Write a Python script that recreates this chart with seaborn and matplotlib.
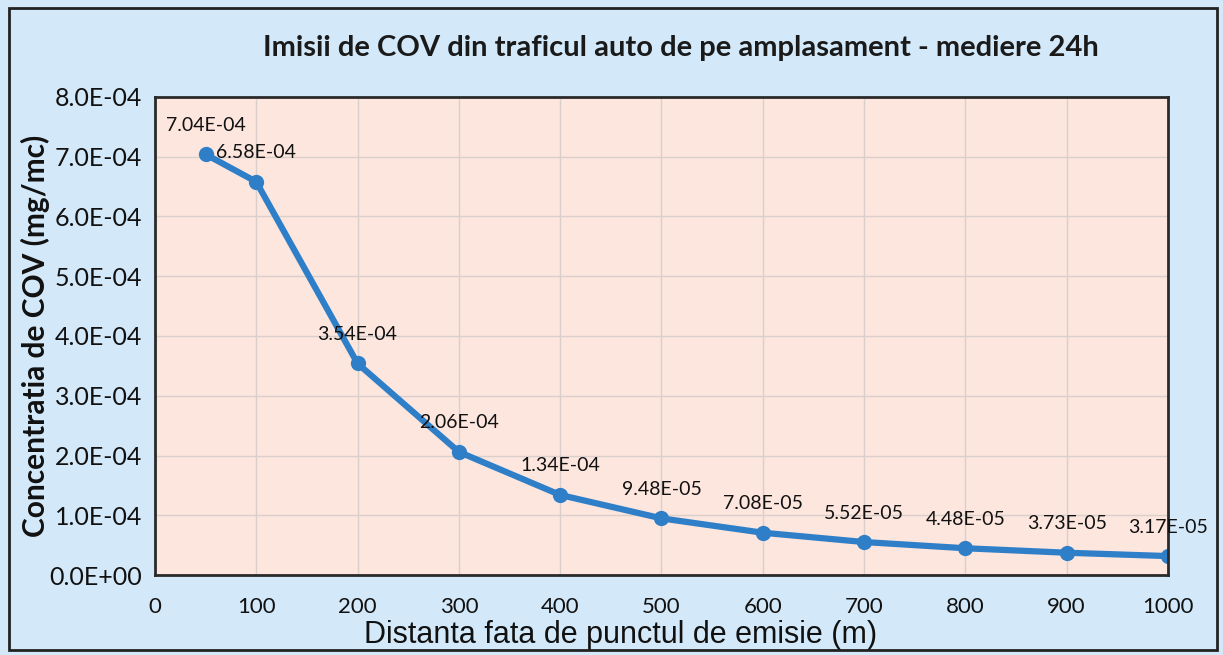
import numpy as np
import matplotlib
matplotlib.use('Agg')
import matplotlib.pyplot as plt
import seaborn as sns
from matplotlib.ticker import FuncFormatter, MultipleLocator
from matplotlib.patches import Rectangle

# Date
distanta = [50, 100, 200, 300, 400, 500, 600, 700, 800, 900, 1000]
concentratie = [7.04e-4, 6.58e-4, 3.54e-4, 2.06e-4, 1.34e-4, 9.48e-5,
                7.08e-5, 5.52e-5, 4.48e-5, 3.73e-5, 3.17e-5]
titlu = 'Imisii de COV din traficul auto de pe amplasament - mediere 24h'
eticheta_x = 'Distanta fata de punctul de emisie (m)'
eticheta_y = 'Concentratia de COV (mg/mc)'

sns.set_theme(style='whitegrid')
plt.rcParams['font.family'] = ['Lato', 'DejaVu Sans']

fig = plt.figure(figsize=(12.23, 6.55), dpi=100)
fig.patch.set_facecolor('#d3e8f8')
fig.patches.append(Rectangle((0.007, 0.008), 0.988, 0.98, transform=fig.transFigure,
                             fill=False, edgecolor='#222222', linewidth=2))

ax = fig.add_axes([0.1267, 0.1221, 0.8283, 0.7299])
ax.set_facecolor('#fde6de')

sns.lineplot(x=distanta, y=concentratie, marker='o', markersize=11, color='#2f7fc8',
             linewidth=4.5, markeredgewidth=0, ax=ax)

for x, y in zip(distanta, concentratie):
    ax.annotate(f'{y:.2E}', (x, y), xytext=(0, 29), textcoords='offset pixels',
                ha='center', va='center', fontsize=14, color='#111111')

ax.set_xlim(0, 1000)
ax.set_ylim(0, 8e-4)
ax.xaxis.set_major_locator(MultipleLocator(100))
ax.yaxis.set_major_locator(MultipleLocator(1e-4))
ax.yaxis.set_major_formatter(FuncFormatter(lambda v, p: f'{v:.1E}'))

ax.grid(True, color='#d9d0cc', linewidth=1)
for s in ax.spines.values():
    s.set_color('#2a2a2a')
    s.set_linewidth(2)
ax.tick_params(axis='both', direction='inout', length=12, width=2, color='#2a2a2a',
               labelcolor='#111111')
ax.tick_params(axis='y', labelsize=18, pad=3)
ax.tick_params(axis='x', labelsize=16, pad=10)

ax.set_xlabel(eticheta_x, fontsize=22, family=['Liberation Sans', 'DejaVu Sans'],
              color='#111111')
ax.xaxis.set_label_coords(0.46, -0.094)
ax.set_ylabel(eticheta_y, fontsize=21.5, fontweight='bold', color='#111111')
ax.yaxis.set_label_coords(-0.1037, 0.5)
fig.text(0.557, 0.927, titlu, ha='center', va='center', fontsize=21,
         fontweight='bold', color='#1a1a1a')

fig.savefig('out.png', dpi=100, facecolor=fig.get_facecolor())
